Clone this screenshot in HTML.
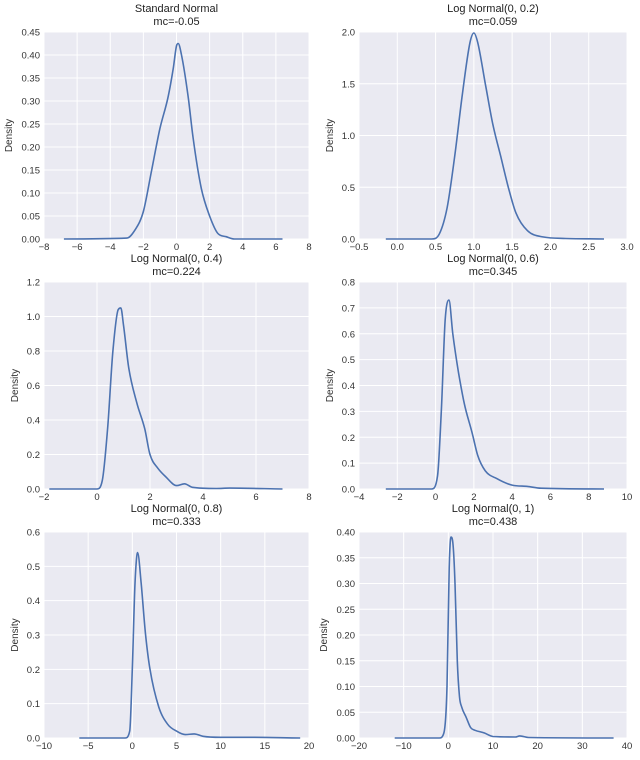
<!DOCTYPE html>
<html><head><meta charset="utf-8"><style>
html,body{margin:0;padding:0;background:#fff;}
svg{display:block;font-family:"Liberation Sans",sans-serif;}
</style></head><body>
<svg id="fig" width="640" height="760" viewBox="0 0 640 760" xmlns="http://www.w3.org/2000/svg"></svg>
<script>
const titles = ["Standard Normal","Log Normal(0, 0.2)","Log Normal(0, 0.4)","Log Normal(0, 0.6)","Log Normal(0, 0.8)","Log Normal(0, 1)"];
const mcValues = ["-0.05","0.059","0.224","0.345","0.333","0.438"];
const xRanges = [[-8,8],[-0.5,3.0],[-2,8],[-4,10],[-10,20],[-20,40]];
const yRanges = [[0,0.45],[0,2.0],[0,1.2],[0,0.8],[0,0.6],[0,0.40]];
const xStepVals = [2,0.5,2,2,5,10];
const yStepVals = [0.05,0.5,0.2,0.1,0.1,0.05];
const yDecimals = [2,1,1,1,1,2];
const xDecimals = [0,1,0,0,0,0];
const xs1 = [-6.8,-3,-2.5,-2,-1.5,-1,-0.5,-0.2,0,0.1,0.3,0.7,1,1.5,2,2.5,3,3.5,6.4];
const ys1 = [0,0.002,0.02,0.06,0.15,0.24,0.31,0.37,0.42,0.425,0.40,0.31,0.22,0.11,0.05,0.012,0.005,0,0];
const xs2 = [-0.15,0.45,0.55,0.65,0.75,0.85,0.95,1.0,1.05,1.15,1.25,1.35,1.45,1.55,1.7,1.9,2.2,2.7];
const ys2 = [0,0,0.05,0.3,0.8,1.4,1.9,1.99,1.9,1.5,1.1,0.8,0.5,0.25,0.08,0.02,0.005,0];
const xs3 = [-1.8,0,0.2,0.4,0.6,0.8,0.9,1.0,1.2,1.5,1.8,2.0,2.3,2.6,3,3.3,3.6,4.5,5,7];
const ys3 = [0,0,0.05,0.35,0.8,1.04,1.05,0.95,0.7,0.5,0.35,0.2,0.12,0.07,0.02,0.03,0.01,0.003,0.005,0];
const xs4 = [-2.6,-0.2,0.1,0.3,0.5,0.7,0.9,1.2,1.5,1.9,2.2,2.6,3.2,4,4.8,5.5,8.8];
const ys4 = [0,0,0.05,0.3,0.65,0.73,0.6,0.45,0.33,0.22,0.13,0.07,0.04,0.015,0.01,0.003,0];
const xs5 = [-6,-0.8,-0.3,0,0.3,0.6,1,1.5,2,3,4,5,6,7,8,10,13,19];
const ys5 = [0,0,0.02,0.2,0.45,0.54,0.45,0.3,0.2,0.09,0.04,0.02,0.01,0.012,0.005,0.002,0.002,0];
const xs6 = [-12,-2,-1,-0.3,0.2,0.6,1,1.5,2,2.5,3,4,5,6,8,10,15,16,18,37];
const ys6 = [0,0,0.01,0.1,0.33,0.39,0.38,0.3,0.15,0.08,0.06,0.04,0.02,0.015,0.01,0.003,0.002,0.004,0.001,0];
const seriesX = [xs1,xs2,xs3,xs4,xs5,xs6];
const seriesY = [ys1,ys2,ys3,ys4,ys5,ys6];

const NS="http://www.w3.org/2000/svg";
const svg=document.getElementById('fig');
function mk(tag,attrs,parent){const e=document.createElementNS(NS,tag);for(const k in attrs)e.setAttribute(k,attrs[k]);(parent||svg).appendChild(e);return e;}
function monotonePath(P){
  const n=P.length;const d=[],m=[];
  for(let k=0;k<n-1;k++)d.push((P[k+1][1]-P[k][1])/(P[k+1][0]-P[k][0]));
  m[0]=d[0];m[n-1]=d[n-2];
  for(let k=1;k<n-1;k++)m[k]=(d[k-1]*d[k]<=0)?0:(d[k-1]+d[k])/2;
  for(let k=0;k<n-1;k++){if(d[k]===0){m[k]=0;m[k+1]=0;continue;}const a=m[k]/d[k],b=m[k+1]/d[k],s=a*a+b*b;if(s>9){const t=3/Math.sqrt(s);m[k]=t*a*d[k];m[k+1]=t*b*d[k];}}
  let s='M'+P[0][0].toFixed(1)+','+P[0][1].toFixed(1);
  for(let k=0;k<n-1;k++){const h=(P[k+1][0]-P[k][0])/3;
    s+=' C'+(P[k][0]+h).toFixed(1)+','+(P[k][1]+m[k]*h).toFixed(1)+' '+(P[k+1][0]-h).toFixed(1)+','+(P[k+1][1]-m[k+1]*h).toFixed(1)+' '+P[k+1][0].toFixed(1)+','+P[k+1][1].toFixed(1);}
  return s;
}
const cols=[[44,309],[359,627]];
const rows=[[32,239],[282,489],[532,738]];
for(let i=0;i<6;i++){
  const [L,R]=cols[i%2],[T,B]=rows[Math.floor(i/2)];
  const [x0,x1]=xRanges[i],[y0,y1]=yRanges[i];
  const sx=v=>L+(v-x0)/(x1-x0)*(R-L);
  const sy=v=>B-(v-y0)/(y1-y0)*(B-T);
  const g=mk('g',{});
  
  
  const bg=mk('rect',{x:L,y:T,width:R-L,height:B-T,fill:'#eaeaf2'},g);
  
  
  const ny=Math.round((y1-y0)/yStepVals[i]);
  for(let k=0;k<=ny;k++){
    const v=y0+k*yStepVals[i],y=sy(v);
    const gl=mk('line',{x1:L,x2:R,y1:y,y2:y,stroke:'#fff','stroke-width':1},g);
    
    
    const t=mk('text',{x:L-4,y:y+3.5,'text-anchor':'end','font-size':9.5,fill:'#333'},g);
    
    
    t.textContent=v.toFixed(yDecimals[i]);
  }
  const nx=Math.round((x1-x0)/xStepVals[i]);
  for(let k=0;k<=nx;k++){
    const v=x0+k*xStepVals[i],x=sx(v);
    const gl=mk('line',{x1:x,x2:x,y1:T,y2:B,stroke:'#fff','stroke-width':1},g);
    
    
    const t=mk('text',{x:x,y:B+11,'text-anchor':'middle','font-size':9.5,fill:'#333'},g);
    
    
    t.textContent=v.toFixed(xDecimals[i]).replace('-','\u2212');
  }
  const pts=seriesX[i].map((v,k)=>[sx(v),sy(seriesY[i][k])]);
  const p=mk('path',{d:monotonePath(pts),fill:'none',stroke:'#4c72b0','stroke-width':1.6,'stroke-linejoin':'round'},g);
  
  
  const cx=(L+R)/2;
  const t1=mk('text',{x:cx,y:T-20,'text-anchor':'middle','font-size':11,fill:'#222'},g);
  
  
  t1.textContent=titles[i];
  const t2=mk('text',{x:cx,y:T-7,'text-anchor':'middle','font-size':11,fill:'#222'},g);
  
  
  t2.textContent='mc='+mcValues[i];
  const lx=(yDecimals[i]==2?L-32:L-26);
  const yl=mk('text',{x:lx,y:(T+B)/2,'text-anchor':'middle','font-size':10,fill:'#333',transform:'rotate(-90 '+lx+' '+((T+B)/2)+')'},g);
  
  
  yl.textContent='Density';
}
</script>
</body></html>
